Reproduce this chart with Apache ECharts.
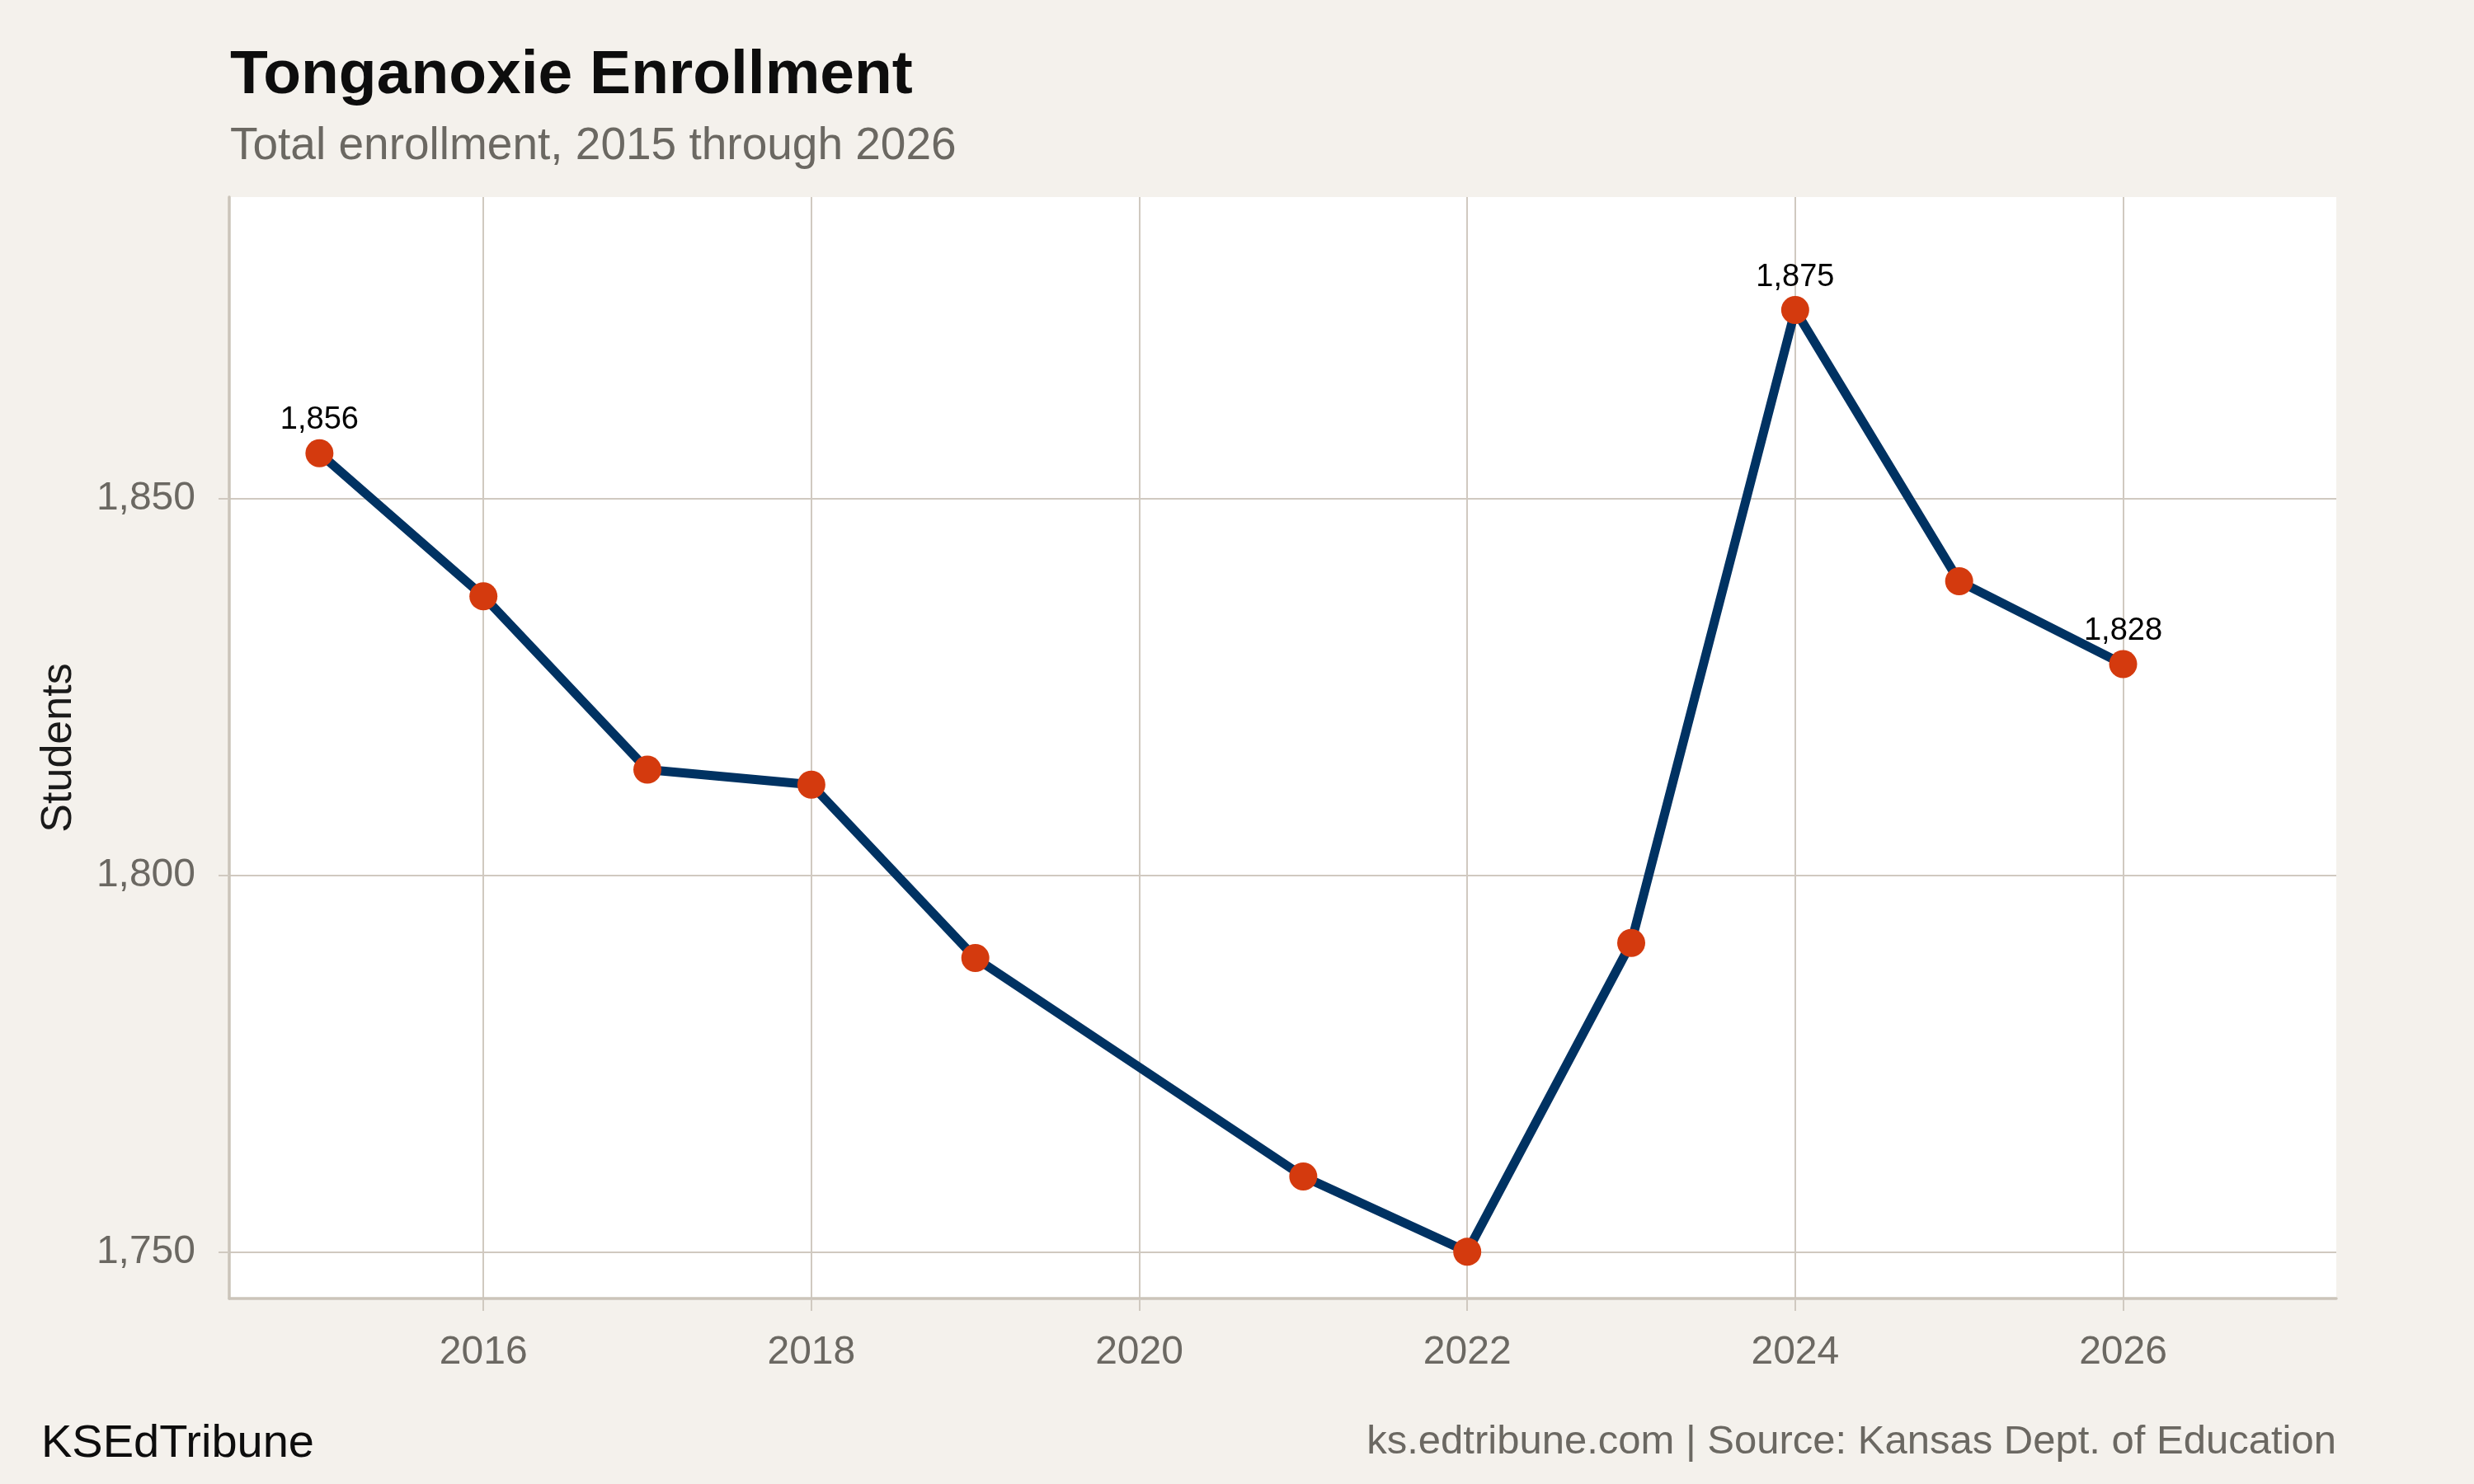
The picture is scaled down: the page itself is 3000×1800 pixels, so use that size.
<!DOCTYPE html>
<html>
<head>
<meta charset="utf-8">
<title>Tonganoxie Enrollment</title>
<script src="https://cdn.jsdelivr.net/npm/echarts@6/dist/echarts.min.js"></script>
<style>
  html, body { margin: 0; padding: 0; background: #f4f1ec; }
  #chart { width: 3000px; height: 1800px; }
</style>
</head>
<body>
<div id="chart"></div>
<script>
  // enrollment by school year (no 2020 value in the source)
  const years = [2015, 2016, 2017, 2018, 2019, 2021, 2022, 2023, 2024, 2025, 2026]
  const students = [1856, 1837, 1814, 1812, 1789, 1760, 1750, 1791, 1875, 1839, 1828]
  const labeledYears = [2015, 2024, 2026]
  const xTicks = [2016, 2018, 2020, 2022, 2024, 2026]
  const yTicks = [1750, 1800, 1850]

  const FONT = '"Liberation Sans", Helvetica, Arial, sans-serif'
  const gridColor = '#d0c9c0'
  const greyText = '#6b6862'

  const fmt = v => Math.round(v).toLocaleString('en-US')

  const seriesData = years.map((y, i) => ({
    value: [y, students[i]],
    label: { show: labeledYears.indexOf(y) !== -1 }
  }))

  const chart = echarts.init(document.getElementById('chart'), null, { renderer: 'canvas' })

  chart.setOption({
    backgroundColor: '#f4f1ec',
    animation: false,
    title: [
      {
        text: 'Tonganoxie Enrollment',
        left: 279, top: 55, padding: 0,
        textStyle: { fontFamily: FONT, fontSize: 75, fontWeight: 'bold', color: '#0d0d0d' }
      },
      {
        text: 'Total enrollment, 2015 through 2026',
        left: 279, top: 150, padding: 0,
        textStyle: { fontFamily: FONT, fontSize: 55, fontWeight: 'normal', color: greyText }
      },
      {
        text: 'KSEdTribune',
        left: 50, top: 1724, padding: 0,
        textStyle: { fontFamily: FONT, fontSize: 56, fontWeight: 'normal', color: '#0d0d0d' }
      },
      {
        text: 'ks.edtribune.com | Source: Kansas Dept. of Education',
        right: 167, top: 1725, padding: 0,
        textStyle: { fontFamily: FONT, fontSize: 49, fontWeight: 'normal', color: greyText }
      }
    ],
    grid: {
      left: 278, right: 167, top: 239, bottom: 225,
      show: true, backgroundColor: '#ffffff', borderWidth: 0
    },
    xAxis: {
      type: 'value',
      min: 2014.45,
      max: 2027.3,
      axisLine: { show: true, lineStyle: { color: '#cbc4ba', width: 3.5 } },
      axisTick: { show: true, length: 15, customValues: xTicks, lineStyle: { color: gridColor, width: 2 } },
      axisLabel: {
        customValues: xTicks, margin: 42,
        fontFamily: FONT, fontSize: 48, color: greyText,
        formatter: v => String(v)
      },
      splitLine: { show: true, lineStyle: { color: gridColor, width: 2 } }
    },
    yAxis: {
      type: 'value',
      min: 1743.8,
      max: 1890,
      name: 'Students',
      nameLocation: 'middle',
      nameGap: 180,
      nameRotate: 90,
      nameTextStyle: { fontFamily: FONT, fontSize: 52, color: '#1a1a1a' },
      axisLine: { show: true, lineStyle: { color: '#cbc4ba', width: 3.5 } },
      axisTick: { show: true, length: 13, customValues: yTicks, lineStyle: { color: gridColor, width: 2 } },
      axisLabel: {
        customValues: yTicks, margin: 41,
        fontFamily: FONT, fontSize: 48, color: greyText,
        formatter: fmt
      },
      splitLine: { show: true, lineStyle: { color: gridColor, width: 2 } }
    },
    series: [{
      name: 'Students',
      type: 'line',
      data: seriesData,
      symbol: 'circle',
      symbolSize: 34,
      lineStyle: { color: '#003262', width: 11 },
      itemStyle: { color: '#d43a0e' },
      label: {
        position: 'top',
        distance: 4,
        fontFamily: FONT,
        fontSize: 38,
        color: '#000000',
        formatter: p => fmt(p.value[1])
      }
    }]
  })
</script>
</body>
</html>
